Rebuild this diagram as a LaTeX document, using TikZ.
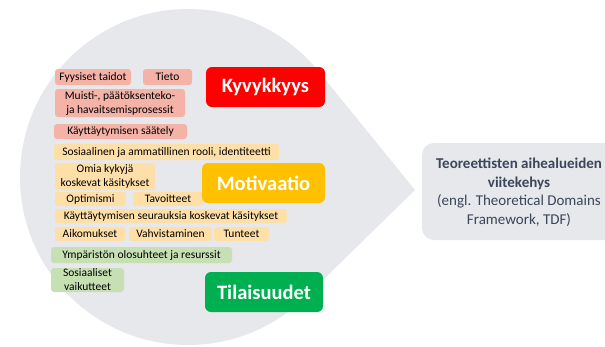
\documentclass[tikz,border=0pt]{standalone}
\usepackage{fontspec}
\setmainfont{Carlito}
\definecolor{bggray}{HTML}{E6E8EC}
\definecolor{salmon}{HTML}{F4B3A6}
\definecolor{peach}{HTML}{FFDFA8}
\definecolor{lgreen}{HTML}{C6E0B4}
\definecolor{kred}{HTML}{FF0000}
\definecolor{morange}{HTML}{FFC000}
\definecolor{tgreen}{HTML}{00B050}
\definecolor{darktext}{HTML}{3B4658}
\begin{document}
\begin{tikzpicture}[x=1pt,y=-1pt,
  tag/.style={rounded corners=3pt, inner sep=0pt, align=center,
    font=\fontsize{11.5}{14}\selectfont, text=black},
  ability/.style={tag, fill=salmon},
  motive/.style={tag, fill=peach},
  chance/.style={tag, fill=lgreen},
  head/.style={rounded corners=6pt, inner sep=0pt, text=white,
    minimum height=40pt, font=\fontsize{20.5}{22}\selectfont\bfseries},
  tdfbox/.style={rounded corners=12pt, inner sep=0pt, fill=bggray,
    minimum width=198pt, minimum height=97pt},
  tdftext/.style={inner sep=0pt, align=center,
    text=darktext, font=\fontsize{15}{18.5}\selectfont}
  ]
\useasboundingbox (0,0) rectangle (605,346);
% teardrop background
\fill[bggray] (188,177) circle[radius=168pt];
\fill[bggray] (415,190) -- (318.4,71.1) -- (188,177) -- (305.4,297.1) -- cycle;

% Kyvykkyys items
\node[ability, minimum width=76pt, minimum height=16pt] (fyys) at (93,77) {Fyysiset taidot};
\node[ability, minimum width=49pt, minimum height=16pt] (tieto) at (167.5,77) {Tieto};
\node[ability, minimum width=130pt, minimum height=28pt] (muisti) at (120,103) {Muisti-, päätöksenteko-\\ja havaitsemisprosessit};
\node[ability, minimum width=133pt, minimum height=15pt] (saately) at (120.5,131.5) {Käyttäytymisen säätely};

% Motivaatio items
\node[motive, minimum width=225pt, minimum height=16pt] (rooli) at (166.5,152) {Sosiaalinen ja ammatillinen rooli, identiteetti};
\node[motive, minimum width=100pt, minimum height=27pt] (omia) at (105,176.5) {Omia kykyjä\\koskevat käsitykset};
\node[motive, minimum width=71pt, minimum height=14pt] (opt) at (90.5,199) {Optimismi};
\node[motive, minimum width=70pt, minimum height=14pt] (tav) at (168,199) {Tavoitteet};
\node[motive, minimum width=232pt, minimum height=14pt] (seur) at (171,216) {Käyttäytymisen seurauksia koskevat käsitykset};
\node[motive, minimum width=70pt, minimum height=14pt] (aik) at (90,234) {Aikomukset};
\node[motive, minimum width=83pt, minimum height=14pt] (vahv) at (170.5,234) {Vahvistaminen};
\node[motive, minimum width=55pt, minimum height=14pt] (tunt) at (241.5,234) {Tunteet};

% Tilaisuudet items
\node[chance, minimum width=181pt, minimum height=16pt] (ymp) at (141.5,255) {Ympäristön olosuhteet ja resurssit};
\node[chance, minimum width=73pt, minimum height=24pt] (sos) at (87.5,280) {Sosiaaliset\\vaikutteet};

% headings
\node[head, fill=kred, minimum width=119pt] (kyv) at (265.5,87) {Kyvykkyys};
\node[head, fill=morange, minimum width=123pt] (mot) at (263.5,183) {Motivaatio};
\node[head, fill=tgreen, minimum width=118pt] (til) at (264,292) {Tilaisuudet};

% TDF box
\node[tdfbox] (tdf) at (521,191.5) {};
\node[tdftext] (tdflabel) at (519,192.5)
  {\textbf{Teoreettisten aihealueiden}\\\textbf{viitekehys}\\(engl. Theoretical Domains\\Framework, TDF)};
\end{tikzpicture}
\end{document}
